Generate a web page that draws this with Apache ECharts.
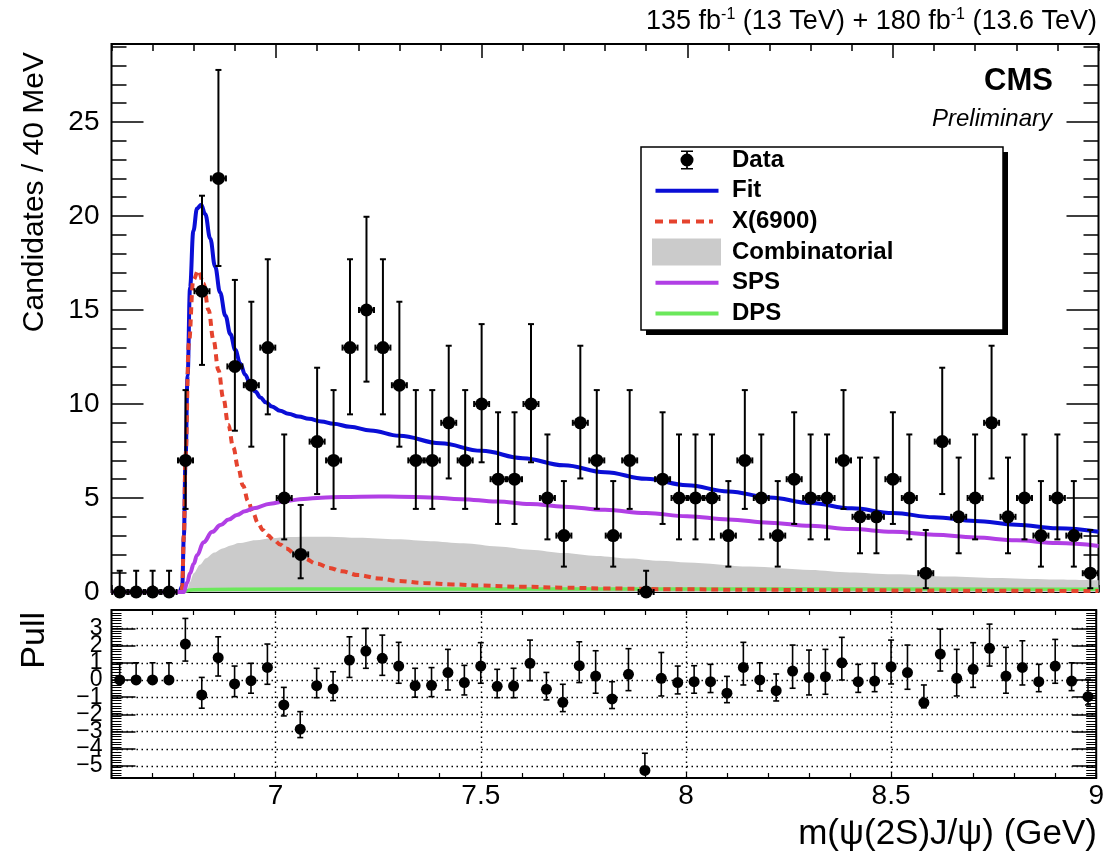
<!DOCTYPE html>
<html><head><meta charset="utf-8">
<script src="https://cdn.jsdelivr.net/npm/echarts@6/dist/echarts.min.js"></script>
<style>html,body{margin:0;padding:0;background:#fff}#c{width:1107px;height:854px}</style>
</head><body><div id="c"></div>
<script>
// ---- data ----
const binCenters = [6.62,6.66,6.70,6.74,6.78,6.82,6.86,6.90,6.94,6.98,7.02,7.06,7.10,7.14,7.18,7.22,7.26,7.30,7.34,7.38,7.42,7.46,7.50,7.54,7.58,7.62,7.66,7.70,7.74,7.78,7.82,7.86,7.90,7.94,7.98,8.02,8.06,8.10,8.14,8.18,8.22,8.26,8.30,8.34,8.38,8.42,8.46,8.50,8.54,8.58,8.62,8.66,8.70,8.74,8.78,8.82,8.86,8.90,8.94,8.98];
const counts = [0,0,0,0,7,16,22,12,11,13, 5,2,8,7,13,15,13,11,7,7, 9,7,10,6,6,10,5,3,9,7, 3,7,0,6,5,5,5,3,7,5, 3,6,5,5,7,4,4,6,5,1, 8,4,5,9,4,5,3,5,3,1];
const errLow = [0,0,0,0,2.58,3.92,4.66,3.42,3.27,3.55, 2.2,1.27,2.79,2.58,3.55,3.81,3.55,3.27,2.58,2.58, 2.96,2.58,3.1,2.38,2.38,3.1,2.2,1.65,2.96,2.58, 1.65,2.58,0,2.38,2.2,2.2,2.2,1.65,2.58,2.2, 1.65,2.38,2.2,2.2,2.58,1.94,1.94,2.38,2.2,0.8, 2.79,1.94,2.2,2.96,1.94,2.2,1.65,2.2,1.65,0.8];
const errHigh = [1.13,1.13,1.13,1.13,3.74,5.08,5.77,4.6,4.44,4.7, 3.38,2.63,3.93,3.74,4.7,4.96,4.7,4.44,3.74,3.74, 4.1,3.74,4.25,3.56,3.56,4.25,3.38,2.9,4.1,3.74, 2.9,3.74,1.13,3.56,3.38,3.38,3.38,2.9,3.74,3.38, 2.9,3.56,3.38,3.38,3.74,3.15,3.15,3.56,3.38,2.3, 3.93,3.15,3.38,4.1,3.15,3.38,2.9,3.38,2.9,2.3];

const pullVals = [0,0,0,0,2.09,-0.87,1.30,-0.23,-0.04,0.73, -1.45,-2.86,-0.33,-0.52,1.16,1.68,1.26,0.81,-0.33,-0.31, 0.43,-0.15,0.81,-0.37,-0.35,0.97,-0.54,-1.30,0.83,0.23, -1.10,0.33,-5.26,0.10,-0.15,-0.10,-0.10,-0.77,0.73,0.00, -0.62,0.52,0.15,0.19,1.00,-0.10,-0.06,0.77,0.43,-1.32, 1.51,0.10,0.62,1.84,0.23,0.73,-0.10,0.81,-0.06,-0.97];
const pullLo = [0,0,0,0,0.99,0.77,1.07,0.74,0.73,0.98, 0.64,0.49,0.70,0.68,1.01,1.0,0.99,1.0,0.67,0.66, 1.01,0.72,1.0,0.66,0.68,1.01,0.62,0.54,0.98,1.0, 0.56,0.95,0,1.03,0.66,0.67,0.63,0.55,1.02,0.64, 0.6,1.0,1.02,1.02,1.0,0.62,0.62,1.0,0.97,0.3, 0.99,1.03,1.05,1.03,1.0,1.02,0.58,1.0,0.56,0.48];
const pullHi = [1,1,1,1,1.49,1.02,1.21,1.04,1.01,1.36, 1.02,1.02,1.01,1.0,1.35,1.32,1.35,1.38,1.01,1.03, 1.35,1.0,1.36,0.99,1.03,1.35,0.98,1.05,1.39,1.47, 1.0,1.49,1.0,1.5,0.96,0.93,1.01,0.98,1.46,1.0, 0.97,1.51,1.59,1.59,1.48,1.01,1.03,1.55,1.6,1.03, 1.45,1.68,1.55,1.41,1.67,1.55,1.01,1.55,1.06,1.01];

const fitX = [6.60,6.765,6.772,6.776,6.780,6.785,6.791,6.799,6.808,6.818,6.828,6.840,6.852,6.864,6.877,6.889,6.901,6.913,6.925,6.937,6.950,6.962,6.975,6.990,7.010,7.030,7.055,7.080,7.110,7.140,7.180,7.230,7.300,7.400,7.500,7.600,7.700,7.800,7.900,8.000,8.100,8.200,8.300,8.400,8.500,8.600,8.700,8.800,8.900,9.000];
const fitY = [0,0,0.3,3.0,7.0,11.5,16.2,19.2,20.4,20.6,20.1,18.81,17.31,15.93,14.7,13.72,12.88,12.16,11.56,11.08,10.66,10.35,10.09,9.865,9.645,9.485,9.335,9.21,9.07,8.95,8.79,8.59,8.31,7.91,7.51,7.12,6.74,6.37,6.02,5.68,5.35,5.03,4.73,4.45,4.20,3.98,3.78,3.58,3.39,3.21];

const sigX = [6.60,6.770,6.772,6.776,6.780,6.788,6.799,6.811,6.824,6.836,6.848,6.860,6.872,6.884,6.896,6.908,6.920,6.932,6.944,6.956,6.968,6.980,6.995,7.010,7.025,7.045,7.068,7.100,7.130,7.160,7.200,7.250,7.300,7.360,7.430,7.500,7.600,7.700,7.800,7.950,8.150,8.400,8.700,9.000];
const sigY = [0,0,0.3,3.0,7.2,13.2,16.6,17.1,16.4,15.0,13.4,11.8,10.3,8.9,7.7,6.6,5.65,4.85,4.2,3.68,3.3,3.02,2.76,2.53,2.32,2.05,1.79,1.5,1.28,1.1,0.9,0.72,0.58,0.48,0.40,0.34,0.28,0.23,0.19,0.15,0.12,0.09,0.07,0.05];

const combX = [6.60,6.783,6.790,6.800,6.815,6.830,6.850,6.870,6.890,6.910,6.950,6.990,7.030,7.070,7.130,7.200,7.294,7.375,7.456,7.540,7.618,7.700,7.780,7.860,7.933,8.000,8.152,8.300,8.395,8.500,8.638,8.750,8.881,9.000];
const combY = [0,0,0.5,1.0,1.45,1.8,2.1,2.32,2.48,2.60,2.75,2.86,2.92,2.94,2.94,2.88,2.80,2.70,2.59,2.42,2.25,2.07,1.92,1.78,1.66,1.57,1.35,1.17,1.04,0.94,0.82,0.74,0.67,0.63];

const spsX = [6.60,6.776,6.784,6.791,6.800,6.808,6.824,6.845,6.865,6.885,6.905,6.925,6.945,6.986,7.026,7.067,7.11,7.16,7.25,7.30,7.375,7.45,7.537,7.618,7.70,7.80,7.90,8.00,8.10,8.20,8.30,8.40,8.50,8.60,8.70,8.80,8.90,9.00];
const spsY = [0,0,0.5,1.0,1.5,1.95,2.65,3.2,3.56,3.85,4.1,4.3,4.45,4.7,4.85,4.95,5.02,5.06,5.08,5.07,5.03,4.94,4.81,4.68,4.54,4.37,4.20,4.03,3.86,3.69,3.52,3.35,3.20,3.05,2.90,2.75,2.60,2.45];

const dpsX = [6.775,6.785,6.80,6.90,7.20,8.00,9.00];
const dpsY = [0,0.08,0.12,0.15,0.16,0.16,0.14];

const xMajorTicks = [7, 7.5, 8, 8.5];
const xLabelValues = [7, 7.5, 8, 8.5, 9];
const pullTickValues = [-5,-4,-3,-2,-1,0,1,2,3];
const pullLabelsOdd = [-5,-3,-1,1,3];
const pullLabelsEven = [-4,-2,0,2];
const legendNames = ['Data','Fit','X(6900)','Combinatorial','SPS','DPS'];

// ---- helpers ----
const zip = (a, b) => a.map((v, i) => [v, b[i]]);
const FONT = 'Liberation Sans, Arial, Helvetica, sans-serif';
const C_BLUE = '#0a0ed6', C_RED = '#e5432e', C_PURPLE = '#b13fe5', C_GREEN = '#6be85b', C_GREY = '#cbcbcb';

function dataErrItem(params, api) {
  const x = api.value(0), y = api.value(1), lo = api.value(2), hi = api.value(3);
  const c = api.coord([x, y]);
  const t = api.coord([x, y + hi]);
  const b = api.coord([x, y - lo]);
  const s = { stroke: '#000', lineWidth: 2 };
  const ch = [
    { type: 'line', shape: { x1: c[0], y1: t[1], x2: c[0], y2: b[1] }, style: s },
    { type: 'line', shape: { x1: c[0] - 7.5, y1: c[1], x2: c[0] + 7.5, y2: c[1] }, style: s },
    { type: 'line', shape: { x1: c[0] - 7.5, y1: c[1] - 3, x2: c[0] - 7.5, y2: c[1] + 3 }, style: s },
    { type: 'line', shape: { x1: c[0] + 7.5, y1: c[1] - 3, x2: c[0] + 7.5, y2: c[1] + 3 }, style: s }
  ];
  if (hi > 0) ch.push({ type: 'line', shape: { x1: c[0] - 3, y1: t[1], x2: c[0] + 3, y2: t[1] }, style: s });
  if (lo > 0) ch.push({ type: 'line', shape: { x1: c[0] - 3, y1: b[1], x2: c[0] + 3, y2: b[1] }, style: s });
  return { type: 'group', children: ch };
}
function pullErrItem(params, api) {
  const x = api.value(0), y = api.value(1), lo = api.value(2), hi = api.value(3);
  const c = api.coord([x, y]);
  const t = api.coord([x, y + hi]);
  const b = api.coord([x, y - lo]);
  const s = { stroke: '#000', lineWidth: 1.6 };
  const ch = [{ type: 'line', shape: { x1: c[0], y1: t[1], x2: c[0], y2: b[1] }, style: s }];
  if (hi > 0) ch.push({ type: 'line', shape: { x1: c[0] - 3, y1: t[1], x2: c[0] + 3, y2: t[1] }, style: s });
  if (lo > 0) ch.push({ type: 'line', shape: { x1: c[0] - 3, y1: b[1], x2: c[0] + 3, y2: b[1] }, style: s });
  return { type: 'group', children: ch };
}

const corners = 'M0 0h0.05v0.05h-0.05Z M74.95 27.95h0.05v0.05h-0.05Z ';
const icons = {
  'Data': 'path://' + corners + 'M29 4.5H41V6H29Z M34.1 4.5H35.9V23.5H34.1Z M29 22H41V23.5H29Z M28.5 14A6.5 6.5 0 1 1 41.5 14A6.5 6.5 0 1 1 28.5 14Z',
  'Fit': 'path://' + corners + 'M3.5 12H66.5V16H3.5Z',
  'X(6900)': 'path://' + corners + 'M3 12H11V16H3Z M17 12H25V16H17Z M30 12H38V16H30Z M44 12H52V16H44Z M57 12H61V16H57Z',
  'Combinatorial': 'path://' + corners + 'M0 0.5H69V27.5H0Z',
  'SPS': 'path://' + corners + 'M3.5 12H66.5V16H3.5Z',
  'DPS': 'path://' + corners + 'M3.5 12H66.5V16H3.5Z'
};

const tickStyle = { color: '#000', width: 1.5 };
function xAx(grid, pos, extra) {
  return Object.assign({
    type: 'value', gridIndex: grid, position: pos, min: 6.6, max: 9,
    axisLine: { show: false, onZero: false }, splitLine: { show: false },
    axisLabel: { show: false }, axisTick: { show: true, inside: true, length: 7, lineStyle: tickStyle }
  }, extra);
}
function yAx(grid, pos, min, max, extra) {
  return Object.assign({
    type: 'value', gridIndex: grid, position: pos, min: min, max: max,
    axisLine: { show: false, onZero: false }, splitLine: { show: false },
    axisLabel: { show: false }, axisTick: { show: true, inside: true, length: 15, lineStyle: tickStyle }
  }, extra);
}
function pullLabelAxis(values) {
  return yAx(1, 'left', PULL_MIN, PULL_MAX, {
    axisTick: { show: false, customValues: values },
    axisLabel: { show: true, customValues: values, fontSize: 23, color: '#000', margin: 9, fontFamily: FONT,
      showMinLabel: true, showMaxLabel: true,
      formatter: v => String(v).replace('-', '\u2212') }
  });
}
const MAIN_MAX = 29.15, PULL_MIN = -5.7, PULL_MAX = 4.07;

const option = {
  animation: false,
  backgroundColor: '#fff',
  textStyle: { fontFamily: FONT },
  grid: [
    { left: 111.5, right: 8.5, top: 44, height: 548, show: true, borderColor: '#000', borderWidth: 2, backgroundColor: 'transparent' },
    { left: 111.5, right: 8.5, top: 610, height: 168, show: true, borderColor: '#000', borderWidth: 2, backgroundColor: 'transparent' }
  ],
  xAxis: [
    xAx(0, 'bottom', { interval: 0.1 }),
    xAx(0, 'bottom', { axisTick: { show: true, inside: true, length: 14, lineStyle: tickStyle, customValues: xMajorTicks } }),
    xAx(0, 'top', { interval: 0.1 }),
    xAx(0, 'top', { axisTick: { show: true, inside: true, length: 14, lineStyle: tickStyle, customValues: xMajorTicks } }),
    xAx(1, 'bottom', { interval: 0.1, axisTick: { show: true, inside: true, length: 5, lineStyle: { color: '#000', width: 1.2 } } }),
    xAx(1, 'bottom', {
      axisTick: { show: false, customValues: xLabelValues },
      axisLabel: { show: true, customValues: xLabelValues, fontSize: 28, color: '#000', margin: 4, fontFamily: FONT,
        showMinLabel: true, showMaxLabel: true }
    }),
    xAx(1, 'top', { interval: 0.1, axisTick: { show: true, inside: true, length: 5, lineStyle: { color: '#000', width: 1.2 } } })
  ],
  yAxis: [
    yAx(0, 'left', 0, MAIN_MAX, { interval: 1 }),
    yAx(0, 'left', 0, MAIN_MAX, {
      interval: 5,
      axisTick: { show: true, inside: true, length: 32, lineStyle: tickStyle },
      axisLabel: { show: true, fontSize: 28, color: '#000', margin: 12, showMaxLabel: false, fontFamily: FONT }
    }),
    yAx(0, 'right', 0, MAIN_MAX, { interval: 1 }),
    yAx(0, 'right', 0, MAIN_MAX, { interval: 5, axisTick: { show: true, inside: true, length: 32, lineStyle: tickStyle } }),
    yAx(1, 'left', PULL_MIN, PULL_MAX, { interval: 0.15, axisTick: { show: true, inside: true, length: 10, lineStyle: { color: '#000', width: 1 } } }),
    yAx(1, 'left', PULL_MIN, PULL_MAX, {
      axisTick: { show: true, inside: true, length: 24, lineStyle: { color: '#000', width: 1.5 }, customValues: pullTickValues } }),
    yAx(1, 'right', PULL_MIN, PULL_MAX, { interval: 0.15, axisTick: { show: true, inside: true, length: 10, lineStyle: { color: '#000', width: 1 } } }),
    yAx(1, 'right', PULL_MIN, PULL_MAX, { axisTick: { show: true, inside: true, length: 24, lineStyle: { color: '#000', width: 1.5 }, customValues: pullTickValues } }),
    pullLabelAxis(pullLabelsOdd),
    pullLabelAxis(pullLabelsEven)
  ],
  legend: {
    data: legendNames.map(n => ({ name: n, icon: icons[n] })),
    orient: 'vertical', left: 652, top: 146, padding: 0,
    itemWidth: 75, itemHeight: 28, itemGap: 2.7, symbolKeepAspect: true,
    itemStyle: { borderWidth: 0, opacity: 1 },
    selectedMode: false, z: 20,
    textStyle: { fontSize: 24, fontWeight: 'bold', color: '#000', lineHeight: 28, fontFamily: FONT }
  },
  graphic: [
    { type: 'rect', z: 5, shape: { x: 646, y: 152, width: 362, height: 183 }, style: { fill: '#000' } },
    { type: 'rect', z: 6, shape: { x: 641, y: 147, width: 362, height: 183 }, style: { fill: '#fff', stroke: '#000', lineWidth: 1.5 } },
    { type: 'text', z: 10, x: 1097, y: 22, style: {
        text: '135 fb{sup|-1} (13 TeV) + 180 fb{sup|-1} (13.6 TeV)', fill: '#000', fontSize: 27, fontFamily: FONT,
        align: 'right', verticalAlign: 'middle', lineHeight: 30,
        rich: { sup: { fontSize: 16, fontFamily: FONT, fill: '#000', verticalAlign: 'top', lineHeight: 16 } } } },
    { type: 'text', z: 10, x: 1053, y: 81, style: { text: 'CMS', fill: '#000', fontSize: 31, fontWeight: 'bold', fontFamily: FONT, align: 'right', verticalAlign: 'middle' } },
    { type: 'text', z: 10, x: 1052, y: 119, style: { text: 'Preliminary', fill: '#000', fontSize: 24, fontStyle: 'italic', fontFamily: FONT, align: 'right', verticalAlign: 'middle' } },
    { type: 'text', z: 10, x: 35, y: 52, rotation: Math.PI / 2, style: { text: 'Candidates / 40 MeV', fill: '#000', fontSize: 30, fontFamily: FONT, align: 'right', verticalAlign: 'middle' } },
    { type: 'text', z: 10, x: 35, y: 612, rotation: Math.PI / 2, style: { text: 'Pull', fill: '#000', fontSize: 34, fontFamily: FONT, align: 'right', verticalAlign: 'middle' } },
    { type: 'text', z: 10, x: 1097, y: 834, style: { text: 'm(\u03c8(2S)J/\u03c8) (GeV)', fill: '#000', fontSize: 35, fontFamily: FONT, align: 'right', verticalAlign: 'middle' } }
  ],
  series: [
    { name: 'Combinatorial', type: 'line', xAxisIndex: 0, yAxisIndex: 0, data: zip(combX, combY), smooth: 0.3, smoothMonotone: 'x',
      symbol: 'none', color: C_GREY, lineStyle: { width: 0, color: C_GREY }, areaStyle: { color: C_GREY, opacity: 1 }, z: 1 },
    { name: 'DPS', type: 'line', xAxisIndex: 0, yAxisIndex: 0, data: zip(dpsX, dpsY), smooth: 0.3, symbol: 'none',
      color: C_GREEN, lineStyle: { width: 3.5, color: C_GREEN }, z: 2 },
    { name: 'Fit', type: 'line', xAxisIndex: 0, yAxisIndex: 0, data: zip(fitX, fitY), smooth: 0.4, smoothMonotone: 'x', symbol: 'none',
      color: C_BLUE, lineStyle: { width: 4, color: C_BLUE }, z: 3 },
    { name: 'X(6900)', type: 'line', xAxisIndex: 0, yAxisIndex: 0, data: zip(sigX, sigY), smooth: 0.4, smoothMonotone: 'x', symbol: 'none',
      color: C_RED, lineStyle: { width: 4, color: C_RED, type: [7, 5] }, z: 4 },
    { name: 'SPS', type: 'line', xAxisIndex: 0, yAxisIndex: 0, data: zip(spsX, spsY), smooth: 0.4, smoothMonotone: 'x', symbol: 'none',
      color: C_PURPLE, lineStyle: { width: 4, color: C_PURPLE }, z: 4 },
    { name: 'DataErr', type: 'custom', xAxisIndex: 0, yAxisIndex: 0, renderItem: dataErrItem,
      data: binCenters.map((m, i) => [m, counts[i], errLow[i], errHigh[i]]), encode: { x: 0, y: 1 }, z: 6, silent: true },
    { name: 'Data', type: 'scatter', xAxisIndex: 0, yAxisIndex: 0, data: zip(binCenters, counts), symbolSize: 13,
      color: '#000', itemStyle: { color: '#000', opacity: 1 }, z: 7, clip: false },
    { name: 'PullErr', type: 'custom', xAxisIndex: 4, yAxisIndex: 4, renderItem: pullErrItem,
      data: binCenters.map((m, i) => [m, pullVals[i], pullLo[i], pullHi[i]]), encode: { x: 0, y: 1 }, z: 6, silent: true },
    { name: 'Pull', type: 'scatter', xAxisIndex: 4, yAxisIndex: 4, data: zip(binCenters, pullVals), symbolSize: 11,
      itemStyle: { color: '#000', opacity: 1 }, z: 7,
      markLine: { silent: true, symbol: ['none', 'none'], label: { show: false }, animation: false,
        lineStyle: { color: '#000', type: [1.5, 3.5], width: 1.4 },
        data: pullTickValues.map(v => ({ yAxis: v })).concat(xMajorTicks.map(v => ({ xAxis: v }))) } }
  ]
};
const chart = echarts.init(document.getElementById('c'), null, { renderer: 'canvas' });
chart.setOption(option);
</script></body></html>
